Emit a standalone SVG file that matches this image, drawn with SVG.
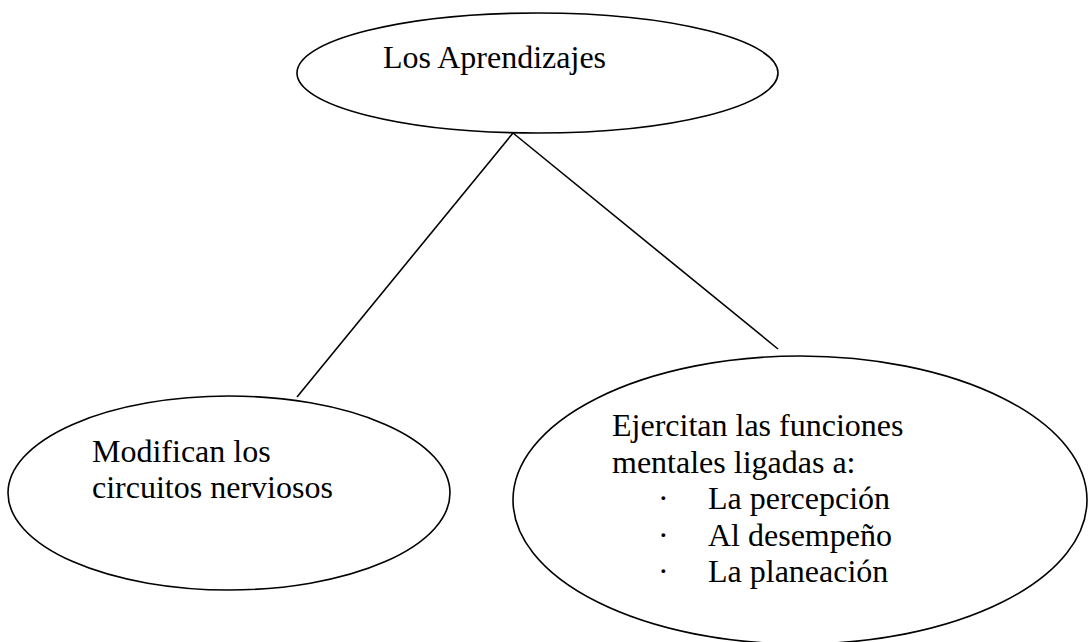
<svg xmlns="http://www.w3.org/2000/svg" width="1088" height="642" viewBox="0 0 1088 642">
<style>
.shape{fill:#fff;stroke:#000;stroke-width:1.6}
.edge{stroke:#000;stroke-width:1.6;fill:none}
text{font-family:"Liberation Serif","Times New Roman",serif;font-size:32px;fill:#000}
</style>
<rect width="1088" height="642" fill="#fff"/>
<g id="connectors">
<line class="edge" x1="513" y1="133" x2="297" y2="397"/>
<line class="edge" x1="513" y1="133" x2="778" y2="349"/>
</g>
<g id="node-aprendizajes">
<ellipse class="shape" cx="537.5" cy="73" rx="240.5" ry="60"/>
<text x="383" y="68">Los Aprendizajes</text>
</g>
<g id="node-modifican">
<ellipse class="shape" cx="229" cy="493" rx="221" ry="97"/>
<text x="92" y="462">Modifican los</text>
<text x="92" y="498">circuitos nerviosos</text>
</g>
<g id="node-ejercitan">
<ellipse class="shape" cx="800" cy="500" rx="287" ry="144"/>
<text x="612" y="436">Ejercitan las funciones</text>
<text x="612" y="472.5">mentales ligadas a:</text>
<text x="658" y="509">·</text>
<text x="708" y="509">La percepción</text>
<text x="658" y="545.5">·</text>
<text x="708" y="545.5">Al desempeño</text>
<text x="658" y="582">·</text>
<text x="708" y="582">La planeación</text>
</g>
</svg>
